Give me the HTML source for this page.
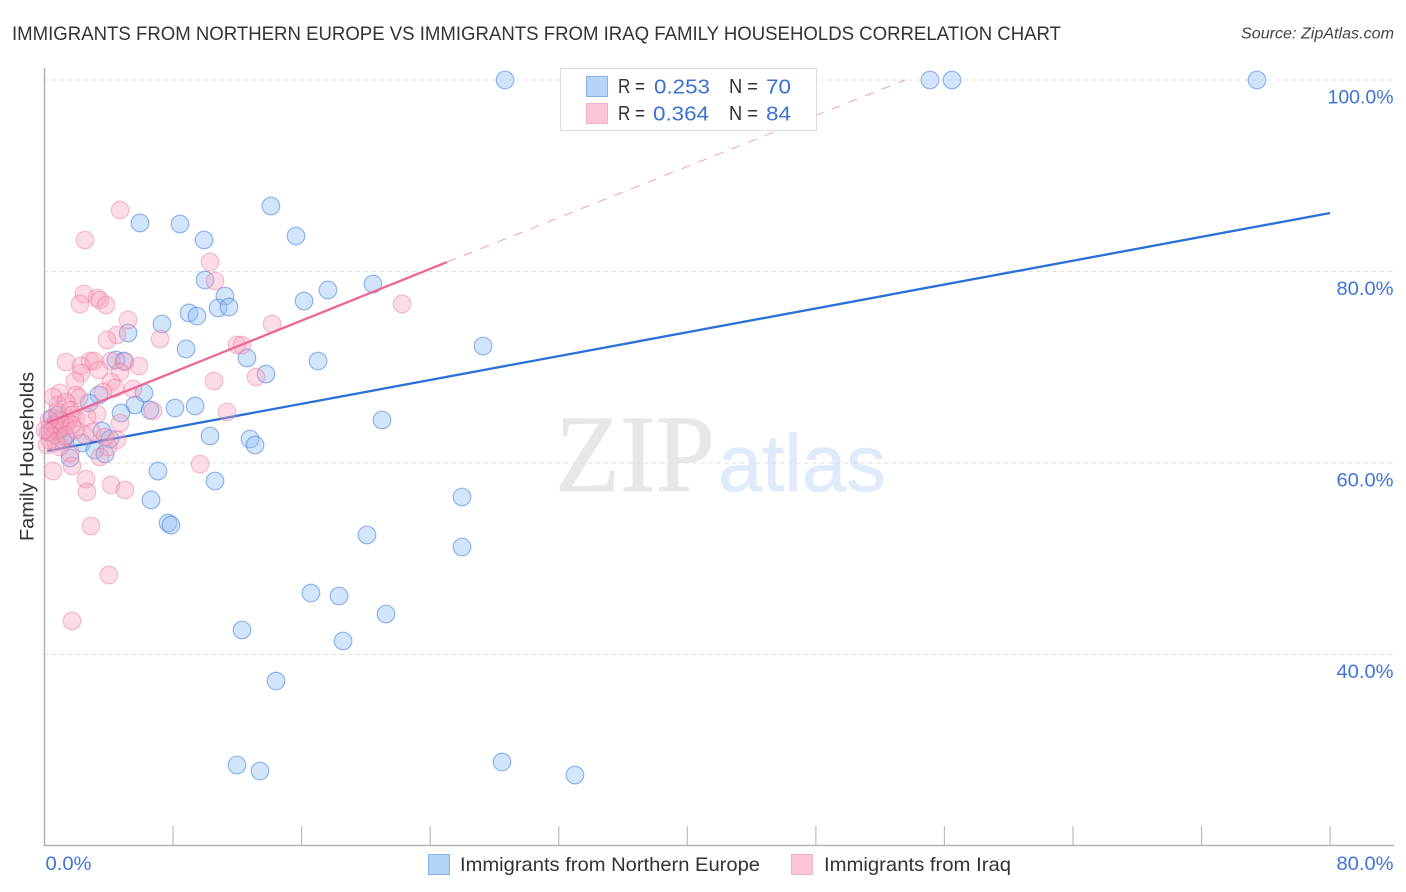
<!DOCTYPE html>
<html lang="en">
<head>
<meta charset="utf-8">
<title>Immigrants from Northern Europe vs Immigrants from Iraq Family Households Correlation Chart</title>
<style>
html,body{margin:0;padding:0;background:#fff;width:1406px;height:892px;overflow:hidden}
svg{display:block;font-family:"Liberation Sans",sans-serif}
</style>
</head>
<body>
<svg id="chart" width="1406" height="892" viewBox="0 0 1406 892" xmlns="http://www.w3.org/2000/svg">
  <text x="12" y="40" font-size="19.5" fill="#333" textLength="1049" lengthAdjust="spacingAndGlyphs">IMMIGRANTS FROM NORTHERN EUROPE VS IMMIGRANTS FROM IRAQ FAMILY HOUSEHOLDS CORRELATION CHART</text>
  <text x="1241" y="38.500" font-size="15.500" font-style="italic" fill="#444" textLength="153" lengthAdjust="spacingAndGlyphs">Source: ZipAtlas.com</text>

  <g>
    <text x="555" y="491" font-family="'Liberation Serif',serif" font-size="110" fill="#e7e7e7" stroke="#e7e7e7" stroke-width="0.8" textLength="160" lengthAdjust="spacingAndGlyphs">ZIP</text>
    <text x="718" y="491" font-size="81" fill="#dfeafa" stroke="#dfeafa" stroke-width="0.6" textLength="168" lengthAdjust="spacingAndGlyphs">atlas</text>
  </g>

  <g id="grid"></g>
  <g id="axes"></g>
  <g id="blue-points"></g>
  <g id="blue-trend"></g>
  <g id="pink-points"></g>
  <g id="pink-trend"></g>
  <g id="tick-labels"></g>

  <text transform="translate(33.500 456.500) rotate(-90)" text-anchor="middle" font-size="19" fill="#333" textLength="169" lengthAdjust="spacingAndGlyphs">Family Households</text>

  <g>
    <rect x="560.500" y="68.500" width="256" height="62" fill="#fff" stroke="#ddd" stroke-width="1"/>
    <rect x="586.500" y="76.500" width="21" height="20" fill="#b5d4f9" stroke="#86b2e8" stroke-width="1"/>
    <rect x="586.500" y="103.500" width="21" height="20" fill="#fcc6d8" stroke="#f4b0c8" stroke-width="1"/>
    <g font-size="20" fill="#333">
      <text x="618" y="93" textLength="27" lengthAdjust="spacingAndGlyphs">R =</text>
      <text x="729" y="93" textLength="29" lengthAdjust="spacingAndGlyphs">N =</text>
      <text x="618" y="120" textLength="27" lengthAdjust="spacingAndGlyphs">R =</text>
      <text x="729" y="120" textLength="29" lengthAdjust="spacingAndGlyphs">N =</text>
    </g>
    <g font-size="20.500" fill="#3a72d4">
      <text x="654" y="93.500" textLength="56" lengthAdjust="spacingAndGlyphs">0.253</text>
      <text x="766" y="93.500" textLength="25" lengthAdjust="spacingAndGlyphs">70</text>
      <text x="653" y="120.500" textLength="56" lengthAdjust="spacingAndGlyphs">0.364</text>
      <text x="766" y="120.500" textLength="25" lengthAdjust="spacingAndGlyphs">84</text>
    </g>
  </g>

  <g>
    <rect x="428.500" y="854.500" width="21" height="20" fill="#b5d4f9" stroke="#86b2e8" stroke-width="1"/>
    <text x="460" y="871" font-size="19.500" fill="#333" textLength="300" lengthAdjust="spacingAndGlyphs">Immigrants from Northern Europe</text>
    <rect x="791.500" y="854.500" width="21" height="20" fill="#fcc6d8" stroke="#f4b0c8" stroke-width="1"/>
    <text x="824" y="871" font-size="19.500" fill="#333" textLength="187" lengthAdjust="spacingAndGlyphs">Immigrants from Iraq</text>
  </g>
</svg>

<script>
const blueX = [28.66,55.10,56.47,75.45,14.09,5.94,8.43,9.93,15.65,9.99,11.23,10.80,11.48,16.15,17.64,20.44,8.99,9.49,7.31,5.20,8.81,12.60,17.02,27.29,4.45,4.95,13.78,6.19,3.39,2.77,5.63,6.57,8.12,9.37,4.76,21.00,0.47,10.30,12.79,13.10,3.58,4.08,2.33,3.14,3.76,1.59,7.06,10.61,6.63,25.98,7.69,7.87,20.07,25.98,16.58,18.33,21.25,12.29,18.58,14.41,11.98,13.41,28.47,33.01,0.96,0.65,0.34,1.28,0.84,1.15];
const blueY = [100,100,100,100,86.84,85.07,84.96,83.29,83.71,79.11,77.44,76.19,76.29,76.92,78.07,78.69,75.67,75.35,74.52,73.58,71.91,70.97,70.65,72.22,70.76,70.65,69.29,67.31,67.10,66.27,66.06,65.53,65.74,65.95,65.22,64.49,64.70,62.82,62.51,61.88,63.34,62.51,62.09,61.36,60.94,60.52,59.16,58.12,56.14,56.45,53.73,53.52,52.48,51.23,46.42,46.11,44.23,42.56,41.41,37.23,28.46,27.83,28.77,27.41,63.45,63.97,63.24,62.72,65.01,62.40];
const pinkX = [4.70,2.52,10.30,10.61,2.46,3.27,3.45,3.83,2.21,22.25,14.16,5.20,4.51,3.89,7.19,11.98,12.29,1.34,2.83,3.08,2.27,4.14,5.01,5.88,4.70,3.39,2.27,1.90,13.16,10.55,4.14,4.39,5.51,1.96,2.15,3.64,0.96,0.53,1.34,0.84,6.75,11.36,3.27,0.78,1.59,1.71,1.96,2.64,4.70,2.96,2.52,3.76,4.51,9.68,3.95,3.45,1.59,0.96,1.71,0.53,2.58,4.14,5.01,2.64,2.89,4.01,1.71,0.16,0.34,0.65,0.47,0.84,1.09,0.22,1.28,1.46,0.59,0.96,1.71,0.28,1.90,0.72,1.34,0.03];
const pinkY = [86.42,83.29,80.99,79.01,77.65,77.23,77.02,76.50,76.61,76.61,74.52,74.93,73.37,72.85,72.95,72.32,72.32,70.55,70.65,70.65,70.13,70.65,70.55,70.13,69.50,69.71,69.40,68.56,68.98,68.56,68.46,67.83,67.73,67.10,66.79,67.41,67.31,66.89,66.37,66.06,65.43,65.33,65.12,65.33,65.53,65.01,64.70,64.80,64.18,63.24,62.92,62.72,62.40,59.89,61.67,60.63,61.04,61.67,59.69,59.16,58.33,57.70,57.18,56.97,53.42,48.30,43.50,61.88,62.40,62.92,63.66,63.45,63.66,63.24,63.97,64.28,64.07,64.49,63.97,64.49,63.45,62.19,62.92,63.45];
const blueTrendX = [0.16,80];
const blueTrendY = [61.25,86.11];
const pinkTrendX = [0.16,25.05];
const pinkTrendY = [64.18,80.99];
const pinkDashX = [25.05,53.55];
const pinkDashY = [80.99,100];
const yTicks = [100,80,60,40];
const yTickLabels = ["100.0%","80.0%","60.0%","40.0%"];
const xTicks = [0,8,16,24,32,40,48,56,64,72,80];
const xEndLabels = ["0.0%","80.0%"];

const NS = 'http://www.w3.org/2000/svg';
function xScale(v){ return 44.5 + v * 16.07; }
function yScale(v){ return 80 + (100 - v) * 9.575; }
function make(tag, attrs, parent){
  const el = document.createElementNS(NS, tag);
  for (const k in attrs) el.setAttribute(k, attrs[k]);
  parent.appendChild(el);
  return el;
}
function labelWidth(s){ return s.length === 6 ? 66 : (s.length === 5 ? 57 : 46); }

const gridG = document.getElementById('grid');
const axesG = document.getElementById('axes');
const labelsG = document.getElementById('tick-labels');

yTicks.forEach(function(t, i){
  const g = make('line', {x1:44.5, x2:1394, y1:yScale(t), y2:yScale(t), stroke:'#dedede', 'stroke-width':1, 'stroke-dasharray':'4 4'}, gridG);
  
  
  const l = make('text', {x:1393.5 - labelWidth(yTickLabels[i]), y:yScale(t) + 23.5, 'font-size':19.5, fill:'#3f74d6', textLength:labelWidth(yTickLabels[i]), lengthAdjust:'spacingAndGlyphs'}, labelsG);
  l.textContent = yTickLabels[i];
  
  
});

const yAxis = make('line', {x1:44.5, x2:44.5, y1:68, y2:846, stroke:'#b4b4b4', 'stroke-width':1.5}, axesG);


const xAxis = make('line', {x1:44, x2:1394, y1:845.5, y2:845.5, stroke:'#b4b4b4', 'stroke-width':1.5}, axesG);



xTicks.slice(1).forEach(function(t){
  const k = make('line', {x1:xScale(t), x2:xScale(t), y1:826, y2:845, stroke:'#bcbcbc', 'stroke-width':1.2}, axesG);
  
  
});

const x0Label = make('text', {x:xScale(xTicks[0]) + 1, y:870, 'font-size':19.5, fill:'#3f74d6', textLength:labelWidth(xEndLabels[0]), lengthAdjust:'spacingAndGlyphs'}, labelsG);
x0Label.textContent = xEndLabels[0];


const x1Label = make('text', {x:1393.5 - labelWidth(xEndLabels[1]), y:870, 'font-size':19.5, fill:'#3f74d6', textLength:labelWidth(xEndLabels[1]), lengthAdjust:'spacingAndGlyphs'}, labelsG);
x1Label.textContent = xEndLabels[1];



const blueG = document.getElementById('blue-points');
blueX.forEach(function(v, i){
  const c = make('circle', {cx:xScale(v), cy:yScale(blueY[i]), r:8.8, fill:'rgba(150,192,245,0.42)', stroke:'rgba(60,120,220,0.52)', 'stroke-width':1.2}, blueG);
  
  
});

const blueTrendG = document.getElementById('blue-trend');
const blueLine = make('line', {x1:xScale(blueTrendX[0]), y1:yScale(blueTrendY[0]), x2:xScale(blueTrendX[1]), y2:yScale(blueTrendY[1]), stroke:'#2a70d6', 'stroke-width':2.3}, blueTrendG);



const pinkG = document.getElementById('pink-points');
pinkX.forEach(function(v, i){
  const c = make('circle', {cx:xScale(v), cy:yScale(pinkY[i]), r:8.8, fill:'rgba(247,160,188,0.36)', stroke:'rgba(236,120,158,0.46)', 'stroke-width':1.2}, pinkG);
  
  
});

const pinkTrendG = document.getElementById('pink-trend');
const dash = make('line', {x1:xScale(pinkDashX[0]), y1:yScale(pinkDashY[0]), x2:xScale(pinkDashX[1]), y2:yScale(pinkDashY[1]), stroke:'#f0a0bc', 'stroke-width':1, 'stroke-dasharray':'9 9'}, pinkTrendG);


const pinkLine = make('line', {x1:xScale(pinkTrendX[0]), y1:yScale(pinkTrendY[0]), x2:xScale(pinkTrendX[1]), y2:yScale(pinkTrendY[1]), stroke:'#ea6797', 'stroke-width':2.3}, pinkTrendG);


</script>
</body>
</html>
